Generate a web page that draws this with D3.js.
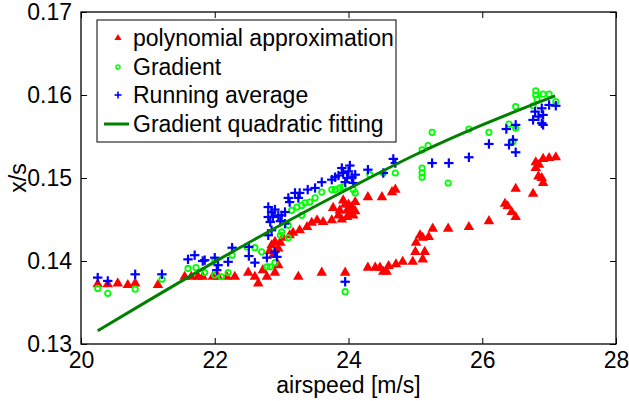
<!DOCTYPE html>
<html>
<head>
<meta charset="utf-8">
<script src="https://cdn.jsdelivr.net/npm/d3@7"></script>
<style>
  body { margin: 0; background: #fff; }
  svg { display: block; font-family: "Liberation Sans", Arial, sans-serif; }
</style>
</head>
<body>
<svg id="chart" width="629" height="401"></svg>
<script>
// polynomial approximation (red triangles)
const polyX = [20.25, 20.40, 20.55, 20.70, 20.81, 21.15, 21.55, 21.65, 21.75, 21.82, 21.97, 22.05, 22.18, 22.3,
  22.5, 22.6, 22.65, 22.72, 22.78, 22.9, 22.95, 22.82, 22.88, 22.95, 22.85, 22.9, 22.98, 23.02, 23.12, 23.17,
  23.27, 23.38, 23.45, 23.53, 23.62, 23.75, 23.77, 23.87, 23.92, 23.98, 23.98, 24.05, 24.07, 24.1, 23.85, 24.0,
  23.9, 24.02, 24.1, 23.95, 24.29, 24.5, 24.65, 24.7, 23.25, 23.6, 23.95, 24.29, 24.4, 24.47, 24.52, 24.57,
  24.6, 24.71, 24.81, 24.96, 25.0, 25.01, 25.07, 25.11, 25.14, 25.11, 25.2, 25.26, 25.49, 25.8, 26.1, 26.34,
  26.38, 26.44, 26.5, 26.5, 26.76, 26.8, 26.8, 26.85, 26.91, 27.0, 27.1, 26.84, 26.89, 26.91];
const polyY = [0.1372, 0.1372, 0.1373, 0.1371, 0.1373, 0.1371, 0.1381, 0.1381, 0.1381, 0.1381, 0.1381, 0.1381, 0.1381, 0.1381,
  0.1386, 0.1381, 0.1373, 0.1389, 0.1381, 0.1386, 0.1395, 0.1412, 0.1408, 0.1415, 0.1419, 0.1423, 0.1422, 0.1428, 0.1431, 0.1434,
  0.1437, 0.1441, 0.1446, 0.1449, 0.1447, 0.1449, 0.1464, 0.1461, 0.1473, 0.1461, 0.1453, 0.1465, 0.1455, 0.1471, 0.1455, 0.1468,
  0.1450, 0.1458, 0.1460, 0.1468, 0.1477, 0.1477, 0.1483, 0.1486, 0.1381, 0.1386, 0.1386, 0.1392, 0.1392, 0.1392, 0.1387, 0.1387,
  0.1394, 0.1396, 0.1399, 0.1399, 0.1411, 0.1422, 0.1431, 0.1428, 0.1411, 0.1402, 0.1429, 0.1439, 0.1439, 0.1441, 0.1448, 0.1469,
  0.1466, 0.1459, 0.1453, 0.1487, 0.1481, 0.1519, 0.1512, 0.1516, 0.1523, 0.1524, 0.1525, 0.1502, 0.1500, 0.1494];

// gradient (green circles)
const gradX = [20.25, 20.40, 20.81, 21.21, 21.6, 21.72, 21.85, 22.0, 22.0, 22.1, 22.2, 22.26, 22.48, 22.6, 22.7,
  22.78, 22.83, 22.9, 22.98, 23.0, 23.1, 23.1, 23.15, 23.23, 23.3, 23.3, 23.35, 23.42, 23.5, 23.6, 23.75, 23.8,
  23.87, 23.92, 24.07, 24.1, 24.32, 24.52, 24.7, 23.95, 25.25, 25.19, 25.1, 25.1, 25.1, 25.1, 25.49, 25.8, 26.1,
  26.4, 26.5, 26.5, 26.46, 26.76, 26.8, 26.8, 26.82, 26.91, 27.0, 27.1];
const gradY = [0.1367, 0.1361, 0.1366, 0.1378, 0.1391, 0.1392, 0.1386, 0.1401, 0.1383, 0.1381, 0.1386, 0.1407, 0.1417, 0.1416, 0.1411,
  0.1393, 0.1393, 0.1398, 0.1431, 0.1435, 0.1443, 0.1428, 0.1461, 0.1465, 0.1467, 0.1455, 0.1470, 0.1471, 0.1476, 0.1483, 0.1486, 0.1486,
  0.1488, 0.1489, 0.1486, 0.1482, 0.1504, 0.1506, 0.1506, 0.1363, 0.1555, 0.1539, 0.1534, 0.1512, 0.1506, 0.1501, 0.1494, 0.1559, 0.1555,
  0.1565, 0.1586, 0.1560, 0.1544, 0.1587, 0.1605, 0.1600, 0.1595, 0.1601, 0.1601, 0.1592];

// running average (blue plus)
const avgX = [20.25, 20.40, 20.81, 21.21, 21.6, 21.7, 21.82, 21.85, 22.0, 22.05, 22.03, 22.2, 22.26, 22.51, 22.51,
  22.6, 22.78, 22.8, 22.8, 22.83, 22.87, 22.95, 23.0, 23.05, 22.8, 22.85, 22.9, 22.93, 22.9, 22.98, 23.05, 22.85,
  23.1, 23.12, 23.2, 23.25, 23.27, 23.39, 23.5, 23.6, 23.75, 23.8, 23.9, 23.92, 23.98, 24.05, 24.1, 24.07, 23.95,
  24.0, 23.85, 24.02, 24.29, 24.52, 24.67, 24.7, 23.95, 25.25, 25.5, 25.8, 26.1, 26.36, 26.46, 26.4, 26.5, 26.5,
  26.76, 26.79, 26.84, 26.89, 26.89, 26.91, 26.91, 27.0, 27.1];
const avgY = [0.1380, 0.1376, 0.1384, 0.1384, 0.1402, 0.1407, 0.1400, 0.1401, 0.1404, 0.1395, 0.1389, 0.1399, 0.1416, 0.1417, 0.1406,
  0.1398, 0.1404, 0.1465, 0.1453, 0.1447, 0.1453, 0.1455, 0.1455, 0.1459, 0.1431, 0.1437, 0.1411, 0.1405, 0.1462, 0.1448, 0.1445, 0.1459,
  0.1476, 0.1471, 0.1482, 0.1476, 0.1482, 0.1486, 0.1488, 0.1495, 0.1498, 0.1501, 0.1512, 0.1506, 0.1500, 0.1501, 0.1504, 0.1494, 0.1495,
  0.1508, 0.1503, 0.1515, 0.1510, 0.1506, 0.1523, 0.1518, 0.1375, 0.1518, 0.1518, 0.1525, 0.1541, 0.1559, 0.1546, 0.1540, 0.1564, 0.1531,
  0.1570, 0.1580, 0.1574, 0.1584, 0.1566, 0.1576, 0.1564, 0.1588, 0.1587];

// gradient quadratic fitting (dark green line)
const fitX = [20.25, 21, 22, 23, 24, 25, 26, 27.09];
const fitY = [0.1316, 0.1352, 0.1399, 0.1444, 0.1487, 0.1528, 0.1564, 0.1599];

const xTicks = [20, 22, 24, 26, 28];
const yTicks = [0.13, 0.14, 0.15, 0.16, 0.17];
const legendLabels = ["polynomial approximation", "Gradient", "Running average", "Gradient quadratic fitting"];

const svg = d3.select("#chart");
const m = { left: 81, right: 616, top: 12, bottom: 344 };

const x = d3.scaleLinear().domain([20, 28]).range([m.left, m.right]);
const y = d3.scaleLinear().domain([0.13, 0.17]).range([m.bottom, m.top]);

const FS = 23;

// frame
svg.append("rect")
  .attr("x", m.left).attr("y", m.top)
  .attr("width", m.right - m.left).attr("height", m.bottom - m.top)
  .attr("fill", "none").attr("stroke", "#000").attr("stroke-width", 1.3);

// inward ticks, bottom/top and left/right
const tickLen = 6;
svg.append("g").attr("transform", `translate(0,${m.bottom})`)
  .call(d3.axisBottom(x).tickValues(xTicks).tickSizeInner(-tickLen).tickSizeOuter(0).tickPadding(8)
    .tickFormat(d3.format("d")))
  .call(g => g.select(".domain").remove())
  .call(g => g.selectAll("text").attr("font-size", FS).attr("font-family", "Liberation Sans, Arial").attr("fill", "#000"));
svg.append("g").attr("transform", `translate(0,${m.top})`)
  .call(d3.axisTop(x).tickValues(xTicks).tickSizeInner(-tickLen).tickSizeOuter(0).tickFormat(""))
  .call(g => g.select(".domain").remove());
svg.append("g").attr("transform", `translate(${m.left},0)`)
  .call(d3.axisLeft(y).tickValues(yTicks).tickSizeInner(-tickLen).tickSizeOuter(0).tickPadding(9)
    .tickFormat(d3.format(".2f")))
  .call(g => g.select(".domain").remove())
  .call(g => g.selectAll("text").attr("font-size", FS).attr("font-family", "Liberation Sans, Arial").attr("fill", "#000"));
svg.append("g").attr("transform", `translate(${m.right},0)`)
  .call(d3.axisRight(y).tickValues(yTicks).tickSizeInner(-tickLen).tickSizeOuter(0).tickFormat(""))
  .call(g => g.select(".domain").remove());
svg.selectAll(".tick line").attr("stroke", "#000");

// axis labels
svg.append("text")
  .attr("x", (m.left + m.right) / 2).attr("y", 393)
  .attr("text-anchor", "middle").attr("font-size", FS)
  .text("airspeed [m/s]");
svg.append("text")
  .attr("transform", `translate(26,${(m.top + m.bottom) / 2}) rotate(-90)`)
  .attr("text-anchor", "middle").attr("font-size", FS)
  .text("x/s");

const tri = d3.symbol().type(d3.symbolTriangle).size(48);
const triSmall = d3.symbol().type(d3.symbolTriangle).size(22);

const plot = svg.append("g");

plot.selectAll("path.poly")
  .data(d3.zip(polyX, polyY))
  .join("path")
  .attr("class", "poly")
  .attr("d", tri)
  .attr("transform", d => `translate(${x(d[0])},${y(d[1])})`)
  .attr("fill", "#ff0000");

plot.selectAll("circle.grad")
  .data(d3.zip(gradX, gradY))
  .join("circle")
  .attr("class", "grad")
  .attr("cx", d => x(d[0])).attr("cy", d => y(d[1]))
  .attr("r", 2.7)
  .attr("fill", "none").attr("stroke", "#00ff00").attr("stroke-width", 1.8);

function plus(sel, r) {
  sel.append("line").attr("x1", -r).attr("x2", r).attr("y1", 0).attr("y2", 0);
  sel.append("line").attr("x1", 0).attr("x2", 0).attr("y1", -r).attr("y2", r);
}

plot.selectAll("g.avg")
  .data(d3.zip(avgX, avgY))
  .join("g")
  .attr("class", "avg")
  .attr("transform", d => `translate(${x(d[0])},${y(d[1])})`)
  .attr("stroke", "#0000ff").attr("stroke-width", 2.2)
  .call(plus, 4.7);

plot.append("path")
  .datum(d3.zip(fitX, fitY))
  .attr("d", d3.line().x(d => x(d[0])).y(d => y(d[1])).curve(d3.curveMonotoneX))
  .attr("fill", "none").attr("stroke", "#008000").attr("stroke-width", 3);

// legend
const lg = svg.append("g");
lg.append("rect")
  .attr("x", 97).attr("y", 20).attr("width", 299).attr("height", 122)
  .attr("fill", "#fff").attr("stroke", "#000").attr("stroke-width", 1);
const rowY = [38, 67, 95, 124];
lg.selectAll("text")
  .data(legendLabels)
  .join("text")
  .attr("x", 133).attr("y", (d, i) => rowY[i] + 8)
  .attr("font-size", FS)
  .text(d => d);
lg.append("path").attr("d", triSmall).attr("transform", `translate(118,${rowY[0]})`).attr("fill", "#ff0000");
lg.append("circle").attr("cx", 118).attr("cy", rowY[1]).attr("r", 2)
  .attr("fill", "none").attr("stroke", "#00ff00").attr("stroke-width", 1.5);
lg.append("g").attr("transform", `translate(118,${rowY[2]})`)
  .attr("stroke", "#0000ff").attr("stroke-width", 1.6).call(plus, 3.5);
lg.append("line").attr("x1", 104).attr("x2", 129).attr("y1", rowY[3]).attr("y2", rowY[3])
  .attr("stroke", "#008000").attr("stroke-width", 3);
</script>
</body>
</html>
